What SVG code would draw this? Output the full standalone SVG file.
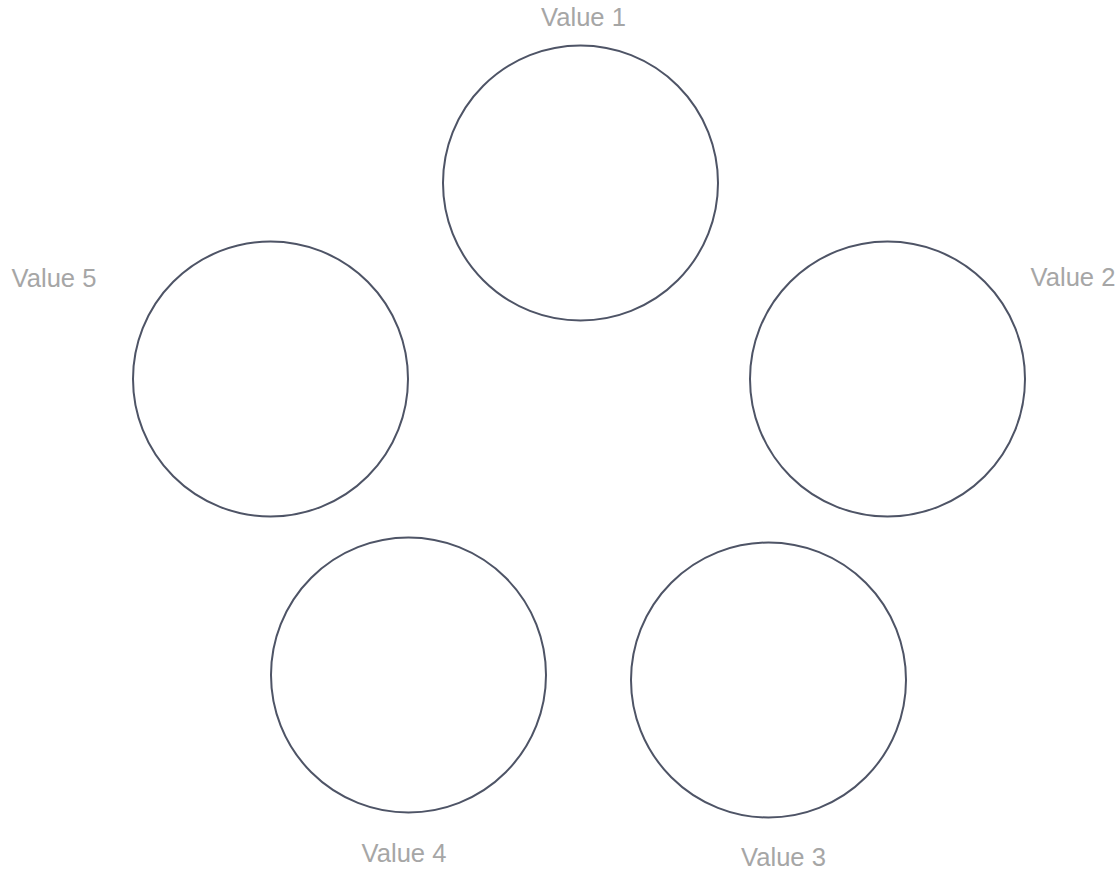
<svg xmlns="http://www.w3.org/2000/svg" width="1120" height="875" viewBox="0 0 1120 875">
<style>
.c{fill:#fff;stroke:#4e5466;stroke-width:2}
.t{font-family:"Liberation Sans",Arial,sans-serif;font-size:25.6px;fill:#a6a6a6;text-anchor:middle}
</style>
<rect width="1120" height="875" fill="#fff"/>
<g id="node1"><circle class="c" cx="580.5" cy="183" r="137.5"/><text class="t" x="583.5" y="26">Value 1</text></g>
<g id="node2"><circle class="c" cx="887.5" cy="379" r="137.5"/><text class="t" x="1073" y="286">Value 2</text></g>
<g id="node3"><circle class="c" cx="768.5" cy="680" r="137.5"/><text class="t" x="783.5" y="866">Value 3</text></g>
<g id="node4"><circle class="c" cx="408.5" cy="675" r="137.5"/><text class="t" x="404" y="862">Value 4</text></g>
<g id="node5"><circle class="c" cx="270.5" cy="379" r="137.5"/><text class="t" x="54" y="287">Value 5</text></g>
<g id="connectors"></g>
</svg>
